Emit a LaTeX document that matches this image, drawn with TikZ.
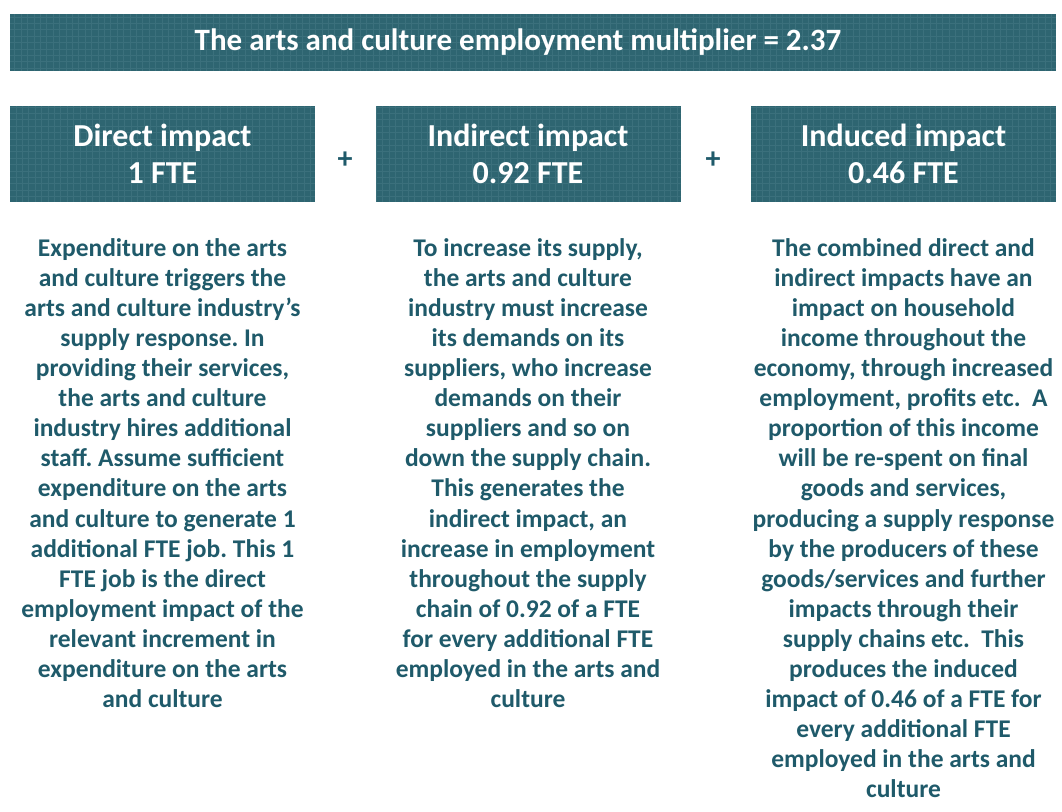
\documentclass[tikz,border=0pt]{standalone}
\usepackage{fontspec}
\setmainfont{Carlito}
\frenchspacing
\definecolor{boxteal}{HTML}{2E6571}
\definecolor{gridteal}{HTML}{5A8C96}
\definecolor{textteal}{HTML}{1F5A6A}

\begin{document}
\begin{tikzpicture}[x=1pt,y=-1pt]
    \tikzstyle{tealbox}=[fill=boxteal, text=white, align=center, inner sep=0pt,
        font=\fontsize{32}{37}\selectfont\bfseries,
        path picture={\draw[gridteal, line width=0.5pt, opacity=0.3]
            (path picture bounding box.south west) grid[step=6.4pt]
            (path picture bounding box.north east);}]
    \tikzstyle{impactbox}=[tealbox, minimum width=305pt, minimum height=96pt]
    \tikzstyle{bodytext}=[text=textteal, align=center, anchor=north, inner sep=0pt,
        font=\fontsize{25.5}{30.1}\selectfont\bfseries]
    \tikzstyle{plussign}=[text=textteal, font=\fontsize{30}{30}\selectfont\bfseries]
    \useasboundingbox (0,0) rectangle (1062,811);

    \node[tealbox, minimum width=1046pt, minimum height=57pt] (banner) at (533,42.5) {};
    \node[text=white, font=\fontsize{31}{37}\selectfont\bfseries] (bannertext) at (518,42.5)
        {The arts and culture employment multiplier = 2.37};

    \node[impactbox] (direct) at (162.5,154) {Direct impact\\1 FTE};
    \node[impactbox] (indirect) at (528,154) {Indirect impact\\0.92 FTE};
    \node[impactbox] (induced) at (903.5,154) {Induced impact\\0.46 FTE};

    \node[plussign] (plusA) at (345,160) {+};
    \node[plussign] (plusB) at (713,160) {+};

    \node[bodytext] (directtext) at (162.5,238) {
        Expenditure on the arts\\
        and culture triggers the\\
        arts and culture industry’s\\
        supply response. In\\
        providing their services,\\
        the arts and culture\\
        industry hires additional\\
        staff. Assume sufficient\\
        expenditure on the arts\\
        and culture to generate 1\\
        additional FTE job. This 1\\
        FTE job is the direct\\
        employment impact of the\\
        relevant increment in\\
        expenditure on the arts\\
        and culture};
    \node[bodytext] (indirecttext) at (528,238) {
        To increase its supply,\\
        the arts and culture\\
        industry must increase\\
        its demands on its\\
        suppliers, who increase\\
        demands on their\\
        suppliers and so on\\
        down the supply chain.\\
        This generates the\\
        indirect impact, an\\
        increase in employment\\
        throughout the supply\\
        chain of 0.92 of a FTE\\
        for every additional FTE\\
        employed in the arts and\\
        culture};
    \node[bodytext] (inducedtext) at (903.5,238) {
        The combined direct and\\
        indirect impacts have an\\
        impact on household\\
        income throughout the\\
        economy, through increased\\
        employment, profits etc.\ \ A\\
        proportion of this income\\
        will be re-spent on final\\
        goods and services,\\
        producing a supply response\\
        by the producers of these\\
        goods/services and further\\
        impacts through their\\
        supply chains etc.\ \ This\\
        produces the induced\\
        impact of 0.46 of a FTE for\\
        every additional FTE\\
        employed in the arts and\\
        culture};
\end{tikzpicture}
\end{document}
